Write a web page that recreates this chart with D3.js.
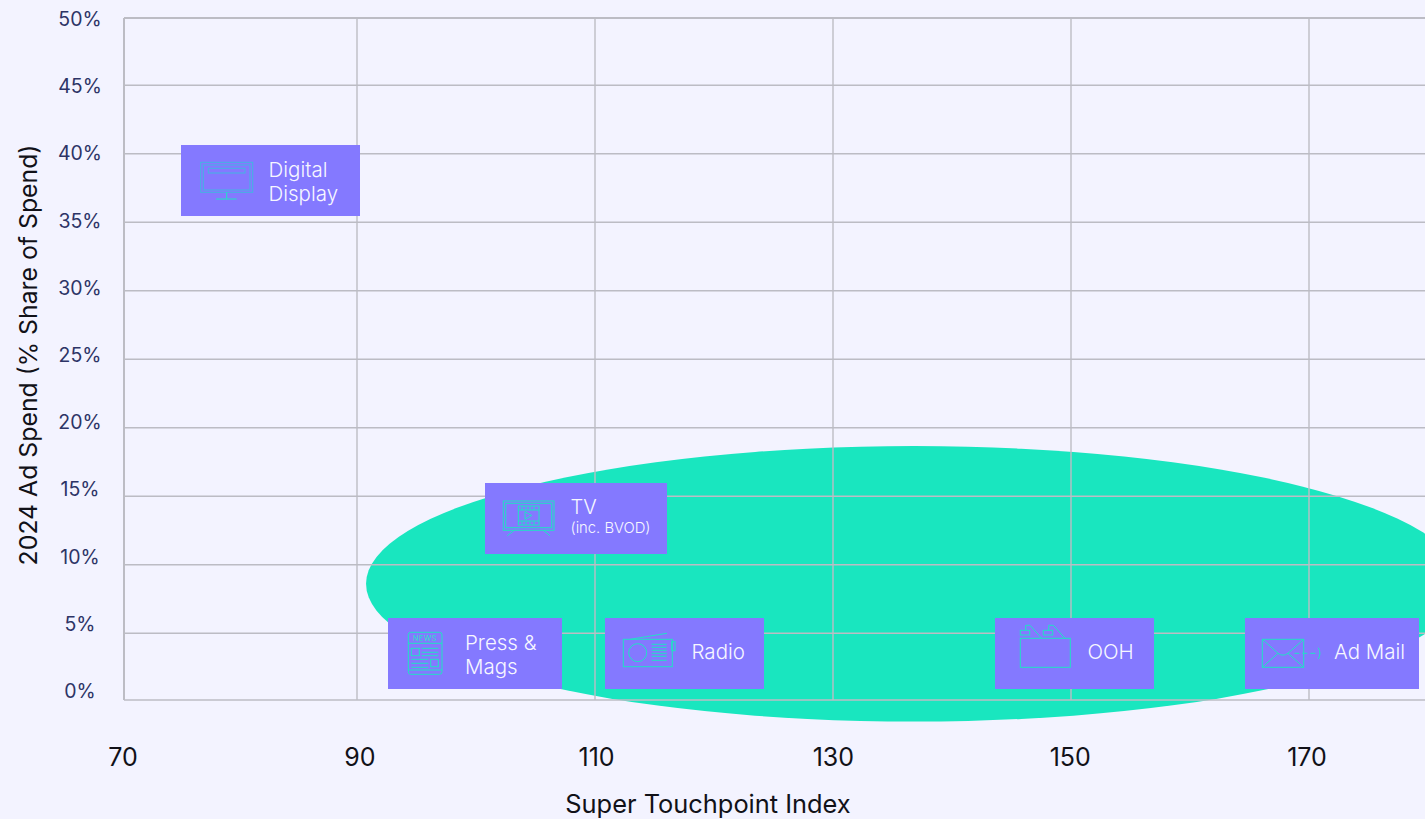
<!DOCTYPE html>
<html>
<head>
<meta charset="utf-8">
<title>Super Touchpoint Index vs Ad Spend</title>
<script src="https://cdn.jsdelivr.net/npm/d3@7"></script>
<style>
  html, body { margin: 0; padding: 0; background: #f3f3ff; overflow: hidden; }
  svg { display: block; }
  text { font-family: Inter, "DejaVu Sans", sans-serif; }
</style>
</head>
<body>
<svg id="chart" width="1425" height="819"></svg>
<script>
// Channel data: Super Touchpoint Index against share of 2024 ad spend
const channels = ["Digital Display", "TV", "Press & Mags", "Radio", "OOH", "Ad Mail"];
const touchpointIndex = [82.6, 108.4, 99.9, 117.5, 150.3, 171.9];
const spendShare = [38.05, 13.4, 3.5, 3.5, 3.5, 3.5];

const xTicks = [70, 90, 110, 130, 150, 170];
const yTicks = [0, 5, 10, 15, 20, 25, 30, 35, 40, 45, 50];

// Extent of the highlighted opportunity zone, in data units
const zoneIndexRange = [90.76, 182.9];
const zoneSpendRange = [-1.62, 18.67];

const W = 1425, H = 819;
const BG = "#f3f3ff", GRID = "#bcbcc4", BOX = "#8479ff", TEAL = "#19e6bf",
      ICON = "#1fe3c4", ICON_BLUE = "#42b6e2", NAVY = "#2d3466", INK = "#111118", LABEL = "#f7f7ff";

const svg = d3.select("#chart");
svg.append("rect").attr("width", W).attr("height", H).attr("fill", BG);

// The outer grid bands are a little narrower than the inner ones
const x = d3.scaleLinear().domain([70, 90, 170]).range([124, 357, 1309]);
const y = d3.scaleLinear().domain([0, 5, 45, 50]).range([700, 633.3, 85.3, 18]);

// Tick labels sit on their own slightly tighter rhythm than the gridlines
const xLabelPos = d3.scaleLinear().domain([70, 170]).range([123, 1307]);
const yLabelPos = d3.scaleLinear().domain([0, 50]).range([691, 19]);

// Opportunity zone sits beneath the grid
const zx0 = x(zoneIndexRange[0]), zx1 = x(zoneIndexRange[1]);
const zy0 = y(zoneSpendRange[0]), zy1 = y(zoneSpendRange[1]);
svg.append("ellipse")
  .attr("cx", (zx0 + zx1) / 2).attr("cy", (zy0 + zy1) / 2)
  .attr("rx", (zx1 - zx0) / 2).attr("ry", (zy0 - zy1) / 2)
  .attr("fill", TEAL);

// Gridlines come from the library's axes, with their labels handled separately
const gridX = svg.append("g").attr("transform", `translate(0,${y(0)})`)
  .call(d3.axisBottom(x).offset(0).tickValues(xTicks).tickSize(y(50) - y(0)).tickFormat(""));
const gridY = svg.append("g").attr("transform", `translate(${x(70)},0)`)
  .call(d3.axisLeft(y).offset(0).tickValues(yTicks).tickSize(x(70) - W).tickFormat(""));
[gridX, gridY].forEach(g => {
  g.select(".domain").remove();
  g.selectAll("line").attr("stroke", GRID).attr("stroke-width", 1.4);
});
svg.append("line").attr("x1", x(70)).attr("x2", x(70)).attr("y1", y(50)).attr("y2", y(0))
  .attr("stroke", GRID).attr("stroke-width", 2);
svg.append("line").attr("x1", x(70)).attr("x2", W).attr("y1", y(50)).attr("y2", y(50))
  .attr("stroke", GRID).attr("stroke-width", 2);

// Axis labels
svg.append("g").selectAll("text").data(yTicks).join("text")
  .attr("x", 80).attr("y", d => yLabelPos(d)).attr("dy", "0.36em")
  .attr("text-anchor", "middle").attr("font-size", 19.5).attr("fill", NAVY)
  .text(d => d + "%");
svg.append("g").selectAll("text").data(xTicks).join("text")
  .attr("x", d => xLabelPos(d)).attr("y", 757).attr("dy", "0.36em")
  .attr("text-anchor", "middle").attr("font-size", 25).attr("fill", INK)
  .text(d => d);
svg.append("text").attr("x", 708).attr("y", 812.8).attr("text-anchor", "middle")
  .attr("font-size", 25.4).attr("fill", INK).text("Super Touchpoint Index");
svg.append("text").attr("transform", "translate(37,355) rotate(-90)").attr("text-anchor", "middle")
  .attr("font-size", 24.8).attr("fill", INK).text("2024 Ad Spend (% Share of Spend)");

// Line-art icons, one drawing routine per channel, in box-local pixels
function rect(g, x0, y0, x1, y1, color, rx) {
  g.append("rect").attr("x", x0).attr("y", y0).attr("width", x1 - x0).attr("height", y1 - y0)
    .attr("rx", rx || 0).attr("fill", "none").attr("stroke", color || ICON);
}
function path(g, d, color, dash) {
  g.append("path").attr("d", d).attr("fill", "none").attr("stroke", color || ICON)
    .attr("stroke-dasharray", dash || null);
}
const icons = {
  "Digital Display": g => {
    rect(g, 19.7, 17.3, 71.7, 47.3, ICON_BLUE);
    rect(g, 22.3, 20, 69, 45, ICON_BLUE);
    rect(g, 27.3, 23.3, 64, 28, ICON_BLUE);
    path(g, "M45.7 47.3V54M35 54H55.7");
  },
  "TV": g => {
    rect(g, 18.3, 18, 69, 47.3);
    rect(g, 20.7, 20.3, 66.7, 44.7);
    rect(g, 33.3, 23, 54, 42);
    path(g, "M33.3 27H54M33.3 38H54M37 23V27M41 23V27M45 23V27M49 23V27M37 38V42M41 38V42M45 38V42M49 38V42");
    path(g, "M40 28.7L46.7 32.5L40 36.3Z");
    path(g, "M29.3 47.3L22.3 52.7M58.3 47.3L65 52.7");
  },
  "Press & Mags": g => {
    rect(g, 20.3, 14.3, 54, 56.3, ICON, 2.5);
    path(g, "M20.3 25.3H54M20.3 52H54");
    g.append("text").attr("x", 37).attr("y", 23.2).attr("text-anchor", "middle")
      .attr("font-size", 7.5).attr("letter-spacing", 0.4).attr("fill", ICON).text("NEWS");
    rect(g, 23.3, 30.3, 31.3, 37.7);
    path(g, "M33.7 30.3H50.3M33.7 34.3H50.3M33.7 37.7H50.3");
    rect(g, 42.7, 41.3, 50.3, 48.7);
    path(g, "M23.3 41.3H40.3M23.3 45.3H40.3M23.3 49.3H40.3");
  },
  "Radio": g => {
    rect(g, 18.3, 21.3, 67.3, 48.7);
    path(g, "M25 21.3L62 15.3");
    g.append("circle").attr("cx", 32.7).attr("cy", 34.7).attr("r", 9).attr("fill", "none").attr("stroke", ICON);
    path(g, "M46.7 26.3H61.7M46.7 29.3H61.7M46.7 32.3H61.7M46.7 35.3H61.7M46.7 38.3H61.7M46.7 42.3H61.7");
    rect(g, 66.7, 23.7, 70, 32.7);
  },
  "OOH": g => {
    rect(g, 25.3, 20.3, 75.3, 49.3);
    rect(g, 25.3, 12.3, 34.7, 17);
    rect(g, 48.3, 12.3, 57.7, 17);
    path(g, "M30.7 12.3V7.3H35L46.7 20.3M53.7 12.3V7.3H58.3L70 20.3");
  },
  "Ad Mail": g => {
    rect(g, 17.3, 21.3, 58.7, 49.3);
    path(g, "M17.3 21.3L33 35.3Q38 39 43 35.3L58.7 21.3M17.3 49.3L33 35.3M58.7 49.3L43 35.3");
    path(g, "M49.3 35.3H71.7", ICON, "5 3");
    path(g, "M73.3 29.7Q76.5 35.3 73.3 41");
  }
};

// Label box layout per channel: size, text inset and text lines
const boxLayout = {
  "Digital Display": { w: 179, tx: 87.5, lines: [["Digital", 32, 20.5], ["Display", 56, 20.5]] },
  "TV": { w: 182, tx: 85.5, lines: [["TV", 30.5, 20], ["(inc. BVOD)", 50, 14.8]] },
  "Press & Mags": { w: 174, tx: 77, lines: [["Press &", 31.5, 20.5], ["Mags", 55.5, 20.5]] },
  "Radio": { w: 159, tx: 86.5, lines: [["Radio", 41, 20.5]] },
  "OOH": { w: 159, tx: 92.5, lines: [["OOH", 41, 20.5]] },
  "Ad Mail": { w: 174, tx: 89, lines: [["Ad Mail", 41, 20.5]] }
};
const BOX_H = 71;

const marks = svg.append("g").selectAll("g").data(channels).join("g")
  .attr("transform", (d, i) =>
    `translate(${Math.round(x(touchpointIndex[i]) - boxLayout[d].w / 2)},${Math.round(y(spendShare[i]) - BOX_H / 2)})`);
marks.append("rect").attr("width", d => boxLayout[d].w).attr("height", BOX_H).attr("fill", BOX);
marks.each(function (d) {
  const g = d3.select(this);
  const art = g.append("g").attr("stroke-width", 1);
  icons[d](art);
  boxLayout[d].lines.forEach(([t, by, fs]) => {
    g.append("text").attr("x", boxLayout[d].tx).attr("y", by)
      .attr("font-size", fs).attr("fill", LABEL).attr("font-weight", 300).text(t);
  });
});
</script>
</body>
</html>
